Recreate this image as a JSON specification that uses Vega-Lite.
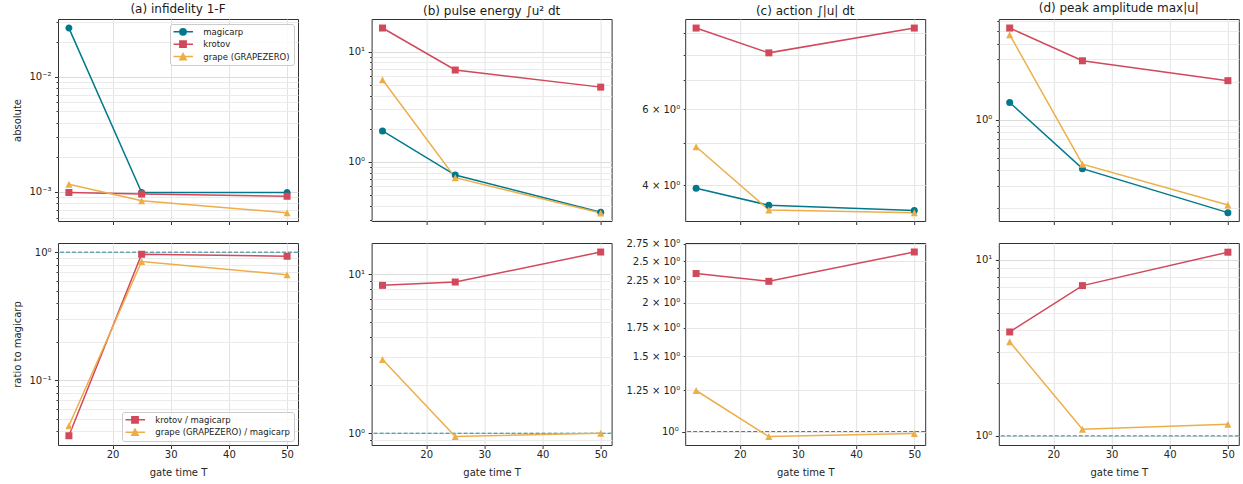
{
"$schema": "https://vega.github.io/schema/vega-lite/v6.json",
"background": "white",
"padding": {"left": 12, "top": 1, "right": 5, "bottom": 2},
"config": {
  "view": {"stroke": "#333333", "strokeWidth": 1},
  "font": "DejaVu Sans",
  "axis": {"domain": false, "tickColor": "#333333", "tickWidth": 1, "tickSize": 3.5, "labelFont": "DejaVu Sans", "labelFontSize": 10, "labelColor": "#262626", "labelPadding": 3.5, "titleFont": "DejaVu Sans", "titleFontSize": 10, "titleFontWeight": "normal", "titleColor": "#262626", "titlePadding": 6, "grid": true, "gridColor": "#e3e3e3", "gridWidth": 1, "labelFlush": false, "labelOverlap": false},
  "title": {"font": "DejaVu Sans", "fontSize": 12, "fontWeight": "normal", "color": "#1a1a1a", "offset": 1}
},
"datasets": {
  "a_abs": [
    {"T": 12.5, "s": "magicarp", "v": 0.0265}, {"T": 25, "s": "magicarp", "v": 0.00099}, {"T": 50, "s": "magicarp", "v": 0.00099},
    {"T": 12.5, "s": "krotov", "v": 0.00099}, {"T": 25, "s": "krotov", "v": 0.00096}, {"T": 50, "s": "krotov", "v": 0.00092},
    {"T": 12.5, "s": "grape (GRAPEZERO)", "v": 0.00117}, {"T": 25, "s": "grape (GRAPEZERO)", "v": 0.00084}, {"T": 50, "s": "grape (GRAPEZERO)", "v": 0.00066}
  ],
  "b_abs": [
    {"T": 12.5, "s": "magicarp", "v": 1.91}, {"T": 25, "s": "magicarp", "v": 0.76}, {"T": 50, "s": "magicarp", "v": 0.349},
    {"T": 12.5, "s": "krotov", "v": 16.4}, {"T": 25, "s": "krotov", "v": 6.82}, {"T": 50, "s": "krotov", "v": 4.77},
    {"T": 12.5, "s": "grape (GRAPEZERO)", "v": 5.56}, {"T": 25, "s": "grape (GRAPEZERO)", "v": 0.72}, {"T": 50, "s": "grape (GRAPEZERO)", "v": 0.344}
  ],
  "c_abs": [
    {"T": 12.5, "s": "magicarp", "v": 3.93}, {"T": 25, "s": "magicarp", "v": 3.59}, {"T": 50, "s": "magicarp", "v": 3.49},
    {"T": 12.5, "s": "krotov", "v": 9.26}, {"T": 25, "s": "krotov", "v": 8.11}, {"T": 50, "s": "krotov", "v": 9.26},
    {"T": 12.5, "s": "grape (GRAPEZERO)", "v": 4.91}, {"T": 25, "s": "grape (GRAPEZERO)", "v": 3.5}, {"T": 50, "s": "grape (GRAPEZERO)", "v": 3.45}
  ],
  "d_abs": [
    {"T": 12.5, "s": "magicarp", "v": 1.37}, {"T": 25, "s": "magicarp", "v": 0.411}, {"T": 50, "s": "magicarp", "v": 0.1845},
    {"T": 12.5, "s": "krotov", "v": 5.32}, {"T": 25, "s": "krotov", "v": 2.93}, {"T": 50, "s": "krotov", "v": 2.04},
    {"T": 12.5, "s": "grape (GRAPEZERO)", "v": 4.71}, {"T": 25, "s": "grape (GRAPEZERO)", "v": 0.446}, {"T": 50, "s": "grape (GRAPEZERO)", "v": 0.212}
  ],
  "a_ratio": [
    {"T": 12.5, "s": "krotov / magicarp", "v": 0.037}, {"T": 25, "s": "krotov / magicarp", "v": 0.965}, {"T": 50, "s": "krotov / magicarp", "v": 0.93},
    {"T": 12.5, "s": "grape (GRAPEZERO) / magicarp", "v": 0.0442}, {"T": 25, "s": "grape (GRAPEZERO) / magicarp", "v": 0.846}, {"T": 50, "s": "grape (GRAPEZERO) / magicarp", "v": 0.667}
  ],
  "b_ratio": [
    {"T": 12.5, "s": "krotov / magicarp", "v": 8.49}, {"T": 25, "s": "krotov / magicarp", "v": 8.91}, {"T": 50, "s": "krotov / magicarp", "v": 13.75},
    {"T": 12.5, "s": "grape (GRAPEZERO) / magicarp", "v": 2.9}, {"T": 25, "s": "grape (GRAPEZERO) / magicarp", "v": 0.953}, {"T": 50, "s": "grape (GRAPEZERO) / magicarp", "v": 1.0}
  ],
  "c_ratio": [
    {"T": 12.5, "s": "krotov / magicarp", "v": 2.34}, {"T": 25, "s": "krotov / magicarp", "v": 2.244}, {"T": 50, "s": "krotov / magicarp", "v": 2.628},
    {"T": 12.5, "s": "grape (GRAPEZERO) / magicarp", "v": 1.247}, {"T": 25, "s": "grape (GRAPEZERO) / magicarp", "v": 0.973}, {"T": 50, "s": "grape (GRAPEZERO) / magicarp", "v": 0.989}
  ],
  "d_ratio": [
    {"T": 12.5, "s": "krotov / magicarp", "v": 3.89}, {"T": 25, "s": "krotov / magicarp", "v": 7.13}, {"T": 50, "s": "krotov / magicarp", "v": 11.04},
    {"T": 12.5, "s": "grape (GRAPEZERO) / magicarp", "v": 3.42}, {"T": 25, "s": "grape (GRAPEZERO) / magicarp", "v": 1.09}, {"T": 50, "s": "grape (GRAPEZERO) / magicarp", "v": 1.165}
  ],
  "ref": [{"v": 1}]
},
"columns": 4,
"spacing": {"row": 22, "column": 73.6},
"bounds": "flush",
"resolve": {"scale": {"color": "independent", "shape": "independent", "stroke": "independent"}},
"concat": [
  {
    "width": 240, "height": 202, "title": "(a) infidelity 1-F", "data": {"name": "a_abs"},
    "encoding": {
      "x": {"field": "T", "type": "quantitative", "scale": {"domain": [10.625, 51.875], "nice": false, "zero": false}, "axis": {"values": [20, 30, 40, 50], "labels": false, "title": null}},
      "y": {"field": "v", "type": "quantitative", "scale": {"type": "log", "domain": [0.00056, 0.03177], "nice": false}, "axis": {"title": "absolute", "values": [0.0006, 0.0007, 0.0008, 0.0009, 0.001, 0.002, 0.003, 0.004, 0.005, 0.006, 0.007, 0.008, 0.009, 0.01, 0.02, 0.03], "labelExpr": "datum.value == 0.001 ? '10⁻³' : datum.value == 0.01 ? '10⁻²' : ''", "tickSize": {"condition": {"test": "datum.value == 0.001 || datum.value == 0.01", "value": 3.5}, "value": 2}, "gridColor": {"condition": {"test": "datum.value == 0.001 || datum.value == 0.01", "value": "#dcdcdc"}, "value": "#ebebeb"}}}
    },
    "layer": [
      {"mark": {"type": "line", "strokeWidth": 1.5},
       "encoding": {"stroke": {"field": "s", "type": "nominal", "scale": {"domain": ["magicarp", "krotov", "grape (GRAPEZERO)"], "range": ["#00798c", "#d1495b", "#edae49"]},
         "legend": {"orient": "top-right", "offset": 4.5, "title": null, "padding": 3.5, "rowPadding": 3.4, "clipHeight": 8.6, "symbolSize": 40, "symbolStrokeWidth": 1.5, "symbolOffset": 5.25, "labelOffset": 16, "labelFontSize": 8.5, "labelFont": "DejaVu Sans", "labelColor": "#222222", "labelLimit": 300, "fillColor": "rgba(255,255,255,0.8)", "strokeColor": "#cccccc", "cornerRadius": 2.5}}}},
      {"mark": {"type": "point", "filled": true, "size": 49, "opacity": 1},
       "encoding": {
         "color": {"field": "s", "type": "nominal", "scale": {"domain": ["magicarp", "krotov", "grape (GRAPEZERO)"], "range": ["#00798c", "#d1495b", "#edae49"]},
           "legend": {"orient": "top-right", "offset": 4.5, "title": null, "padding": 3.5, "rowPadding": 3.4, "clipHeight": 8.6, "symbolSize": 40, "symbolStrokeWidth": 1.5, "symbolOffset": 5.25, "labelOffset": 16, "labelFontSize": 8.5, "labelFont": "DejaVu Sans", "labelColor": "#222222", "labelLimit": 300, "fillColor": "rgba(255,255,255,0.8)", "strokeColor": "#cccccc", "cornerRadius": 2.5}},
         "shape": {"field": "s", "type": "nominal", "scale": {"domain": ["magicarp", "krotov", "grape (GRAPEZERO)"], "range": ["M-3.16,0H3.16M1,0A1,1,0,1,1,-1,0A1,1,0,1,1,1,0Z", "M-3.16,0H3.16M-1,-1H1V1H-1Z", "M-3.16,0H3.16M0,-1L1,1H-1Z"]},
           "legend": {"orient": "top-right", "offset": 4.5, "title": null, "padding": 3.5, "rowPadding": 3.4, "clipHeight": 8.6, "symbolSize": 40, "symbolStrokeWidth": 1.5, "symbolOffset": 5.25, "labelOffset": 16, "labelFontSize": 8.5, "labelFont": "DejaVu Sans", "labelColor": "#222222", "labelLimit": 300, "fillColor": "rgba(255,255,255,0.8)", "strokeColor": "#cccccc", "cornerRadius": 2.5}}
       }}
    ]
  },
  {
    "width": 240, "height": 202, "title": "(b) pulse energy ∫u² dt", "data": {"name": "b_abs"},
    "encoding": {
      "x": {"field": "T", "type": "quantitative", "scale": {"domain": [10.625, 51.875], "nice": false, "zero": false}, "axis": {"values": [20, 30, 40, 50], "labels": false, "title": null}},
      "y": {"field": "v", "type": "quantitative", "scale": {"type": "log", "domain": [0.291, 19.8], "nice": false}, "axis": {"title": null, "values": [0.3, 0.4, 0.5, 0.6, 0.7, 0.8, 0.9, 1, 2, 3, 4, 5, 6, 7, 8, 9, 10], "labelExpr": "datum.value == 1 ? '10⁰' : datum.value == 10 ? '10¹' : ''", "tickSize": {"condition": {"test": "datum.value == 1 || datum.value == 10", "value": 3.5}, "value": 2}, "gridColor": {"condition": {"test": "datum.value == 1 || datum.value == 10", "value": "#dcdcdc"}, "value": "#ebebeb"}}},
      "color": {"field": "s", "type": "nominal", "scale": {"domain": ["magicarp", "krotov", "grape (GRAPEZERO)"], "range": ["#00798c", "#d1495b", "#edae49"]}, "legend": null}
    },
    "layer": [
      {"mark": {"type": "line", "strokeWidth": 1.5}},
      {"mark": {"type": "point", "filled": true, "size": 49, "opacity": 1},
       "encoding": {"shape": {"field": "s", "type": "nominal", "scale": {"domain": ["magicarp", "krotov", "grape (GRAPEZERO)"], "range": ["circle", "square", "M0,-1L1,1H-1Z"]}, "legend": null}}}
    ]
  },
  {
    "width": 240, "height": 202, "title": "(c) action ∫|u| dt", "data": {"name": "c_abs"},
    "encoding": {
      "x": {"field": "T", "type": "quantitative", "scale": {"domain": [10.625, 51.875], "nice": false, "zero": false}, "axis": {"values": [20, 30, 40, 50], "labels": false, "title": null}},
      "y": {"field": "v", "type": "quantitative", "scale": {"type": "log", "domain": [3.3, 9.72], "nice": false}, "axis": {"title": null, "values": [4, 5, 6, 7, 8, 9], "labelExpr": "datum.value == 4 ? '4 × 10⁰' : datum.value == 6 ? '6 × 10⁰' : ''", "tickSize": 2, "gridColor": "#e6e6e6"}},
      "color": {"field": "s", "type": "nominal", "scale": {"domain": ["magicarp", "krotov", "grape (GRAPEZERO)"], "range": ["#00798c", "#d1495b", "#edae49"]}, "legend": null}
    },
    "layer": [
      {"mark": {"type": "line", "strokeWidth": 1.5}},
      {"mark": {"type": "point", "filled": true, "size": 49, "opacity": 1},
       "encoding": {"shape": {"field": "s", "type": "nominal", "scale": {"domain": ["magicarp", "krotov", "grape (GRAPEZERO)"], "range": ["circle", "square", "M0,-1L1,1H-1Z"]}, "legend": null}}}
    ]
  },
  {
    "width": 240, "height": 202, "title": "(d) peak amplitude max|u|", "data": {"name": "d_abs"},
    "encoding": {
      "x": {"field": "T", "type": "quantitative", "scale": {"domain": [10.625, 51.875], "nice": false, "zero": false}, "axis": {"values": [20, 30, 40, 50], "labels": false, "title": null}},
      "y": {"field": "v", "type": "quantitative", "scale": {"type": "log", "domain": [0.1585, 6.27], "nice": false}, "axis": {"title": null, "values": [0.2, 0.3, 0.4, 0.5, 0.6, 0.7, 0.8, 0.9, 1, 2, 3, 4, 5, 6], "labelExpr": "datum.value == 1 ? '10⁰' : ''", "tickSize": {"condition": {"test": "datum.value == 1", "value": 3.5}, "value": 2}, "gridColor": {"condition": {"test": "datum.value == 1", "value": "#dcdcdc"}, "value": "#ebebeb"}}},
      "color": {"field": "s", "type": "nominal", "scale": {"domain": ["magicarp", "krotov", "grape (GRAPEZERO)"], "range": ["#00798c", "#d1495b", "#edae49"]}, "legend": null}
    },
    "layer": [
      {"mark": {"type": "line", "strokeWidth": 1.5}},
      {"mark": {"type": "point", "filled": true, "size": 49, "opacity": 1},
       "encoding": {"shape": {"field": "s", "type": "nominal", "scale": {"domain": ["magicarp", "krotov", "grape (GRAPEZERO)"], "range": ["circle", "square", "M0,-1L1,1H-1Z"]}, "legend": null}}}
    ]
  },
  {
    "width": 240, "height": 202,
    "encoding": {"y": {"field": "v", "type": "quantitative", "scale": {"type": "log", "domain": [0.0313, 1.179], "nice": false}, "axis": {"title": "ratio to magicarp", "values": [0.04, 0.05, 0.06, 0.07, 0.08, 0.09, 0.1, 0.2, 0.3, 0.4, 0.5, 0.6, 0.7, 0.8, 0.9, 1], "labelExpr": "datum.value == 0.1 ? '10⁻¹' : datum.value == 1 ? '10⁰' : ''", "tickSize": {"condition": {"test": "datum.value == 0.1 || datum.value == 1", "value": 3.5}, "value": 2}, "gridColor": {"condition": {"test": "datum.value == 0.1 || datum.value == 1", "value": "#dcdcdc"}, "value": "#ebebeb"}}}},
    "layer": [
      {"data": {"name": "ref"}, "mark": {"type": "rule", "color": "#00798c", "strokeDash": [4, 2], "strokeWidth": 1, "opacity": 0.85}, "encoding": {}},
      {"data": {"name": "a_ratio"},
       "encoding": {
         "x": {"field": "T", "type": "quantitative", "scale": {"domain": [10.625, 51.875], "nice": false, "zero": false}, "axis": {"values": [20, 30, 40, 50], "title": "gate time T", "labelPadding": 1, "titlePadding": 7.5}}
       },
       "layer": [
         {"mark": {"type": "line", "strokeWidth": 1.5},
          "encoding": {"stroke": {"field": "s", "type": "nominal", "scale": {"domain": ["krotov / magicarp", "grape (GRAPEZERO) / magicarp"], "range": ["#d1495b", "#edae49"]},
            "legend": {"orient": "bottom-right", "offset": 4.5, "title": null, "padding": 3.5, "rowPadding": 3.4, "clipHeight": 8.6, "symbolSize": 40, "symbolStrokeWidth": 1.5, "symbolOffset": 5.25, "labelOffset": 16, "labelFontSize": 8.5, "labelFont": "DejaVu Sans", "labelColor": "#222222", "labelLimit": 300, "fillColor": "rgba(255,255,255,0.8)", "strokeColor": "#cccccc", "cornerRadius": 2.5}}}},
         {"mark": {"type": "point", "filled": true, "size": 49, "opacity": 1},
          "encoding": {
            "color": {"field": "s", "type": "nominal", "scale": {"domain": ["krotov / magicarp", "grape (GRAPEZERO) / magicarp"], "range": ["#d1495b", "#edae49"]},
              "legend": {"orient": "bottom-right", "offset": 4.5, "title": null, "padding": 3.5, "rowPadding": 3.4, "clipHeight": 8.6, "symbolSize": 40, "symbolStrokeWidth": 1.5, "symbolOffset": 5.25, "labelOffset": 16, "labelFontSize": 8.5, "labelFont": "DejaVu Sans", "labelColor": "#222222", "labelLimit": 300, "fillColor": "rgba(255,255,255,0.8)", "strokeColor": "#cccccc", "cornerRadius": 2.5}},
            "shape": {"field": "s", "type": "nominal", "scale": {"domain": ["krotov / magicarp", "grape (GRAPEZERO) / magicarp"], "range": ["M-3.16,0H3.16M-1,-1H1V1H-1Z", "M-3.16,0H3.16M0,-1L1,1H-1Z"]},
              "legend": {"orient": "bottom-right", "offset": 4.5, "title": null, "padding": 3.5, "rowPadding": 3.4, "clipHeight": 8.6, "symbolSize": 40, "symbolStrokeWidth": 1.5, "symbolOffset": 5.25, "labelOffset": 16, "labelFontSize": 8.5, "labelFont": "DejaVu Sans", "labelColor": "#222222", "labelLimit": 300, "fillColor": "rgba(255,255,255,0.8)", "strokeColor": "#cccccc", "cornerRadius": 2.5}}
          }}
       ]}
    ]
  },
  {
    "width": 240, "height": 202,
    "encoding": {"y": {"field": "v", "type": "quantitative", "scale": {"type": "log", "domain": [0.843, 15.67], "nice": false}, "axis": {"title": null, "values": [0.9, 1, 2, 3, 4, 5, 6, 7, 8, 9, 10], "labelExpr": "datum.value == 1 ? '10⁰' : datum.value == 10 ? '10¹' : ''", "tickSize": {"condition": {"test": "datum.value == 1 || datum.value == 10", "value": 3.5}, "value": 2}, "gridColor": {"condition": {"test": "datum.value == 1 || datum.value == 10", "value": "#dcdcdc"}, "value": "#ebebeb"}}}},
    "layer": [
      {"data": {"name": "ref"}, "mark": {"type": "rule", "color": "#00798c", "strokeDash": [4, 2], "strokeWidth": 1, "opacity": 0.85}, "encoding": {}},
      {"data": {"name": "b_ratio"},
       "encoding": {
         "x": {"field": "T", "type": "quantitative", "scale": {"domain": [10.625, 51.875], "nice": false, "zero": false}, "axis": {"values": [20, 30, 40, 50], "title": "gate time T", "labelPadding": 1, "titlePadding": 7.5}},
         "color": {"field": "s", "type": "nominal", "scale": {"domain": ["krotov / magicarp", "grape (GRAPEZERO) / magicarp"], "range": ["#d1495b", "#edae49"]}, "legend": null}
       },
       "layer": [
         {"mark": {"type": "line", "strokeWidth": 1.5}},
         {"mark": {"type": "point", "filled": true, "size": 49, "opacity": 1},
          "encoding": {"shape": {"field": "s", "type": "nominal", "scale": {"domain": ["krotov / magicarp", "grape (GRAPEZERO) / magicarp"], "range": ["square", "M0,-1L1,1H-1Z"]}, "legend": null}}}
       ]}
    ]
  },
  {
    "width": 240, "height": 202,
    "encoding": {"y": {"field": "v", "type": "quantitative", "scale": {"type": "log", "domain": [0.93, 2.758], "nice": false}, "axis": {"title": null, "values": [1, 1.25, 1.5, 1.75, 2, 2.25, 2.5, 2.75], "labelExpr": "datum.value == 1 ? '10⁰' : toString(datum.value) + ' × 10⁰'", "tickSize": {"condition": {"test": "datum.value == 1", "value": 3.5}, "value": 2}, "gridColor": "#e6e6e6"}}},
    "layer": [
      {"data": {"name": "ref"}, "mark": {"type": "rule", "color": "#00798c", "strokeDash": [4, 2], "strokeWidth": 1, "opacity": 0.85}, "encoding": {}},
      {"data": {"name": "c_ratio"},
       "encoding": {
         "x": {"field": "T", "type": "quantitative", "scale": {"domain": [10.625, 51.875], "nice": false, "zero": false}, "axis": {"values": [20, 30, 40, 50], "title": "gate time T", "labelPadding": 1, "titlePadding": 7.5}},
         "color": {"field": "s", "type": "nominal", "scale": {"domain": ["krotov / magicarp", "grape (GRAPEZERO) / magicarp"], "range": ["#d1495b", "#edae49"]}, "legend": null}
       },
       "layer": [
         {"mark": {"type": "line", "strokeWidth": 1.5}},
         {"mark": {"type": "point", "filled": true, "size": 49, "opacity": 1},
          "encoding": {"shape": {"field": "s", "type": "nominal", "scale": {"domain": ["krotov / magicarp", "grape (GRAPEZERO) / magicarp"], "range": ["square", "M0,-1L1,1H-1Z"]}, "legend": null}}}
       ]}
    ]
  },
  {
    "width": 240, "height": 202,
    "encoding": {"y": {"field": "v", "type": "quantitative", "scale": {"type": "log", "domain": [0.887, 12.45], "nice": false}, "axis": {"title": null, "values": [1, 2, 3, 4, 5, 6, 7, 8, 9, 10], "labelExpr": "datum.value == 1 ? '10⁰' : datum.value == 10 ? '10¹' : ''", "tickSize": {"condition": {"test": "datum.value == 1 || datum.value == 10", "value": 3.5}, "value": 2}, "gridColor": {"condition": {"test": "datum.value == 1 || datum.value == 10", "value": "#dcdcdc"}, "value": "#ebebeb"}}}},
    "layer": [
      {"data": {"name": "ref"}, "mark": {"type": "rule", "color": "#00798c", "strokeDash": [4, 2], "strokeWidth": 1, "opacity": 0.85}, "encoding": {}},
      {"data": {"name": "d_ratio"},
       "encoding": {
         "x": {"field": "T", "type": "quantitative", "scale": {"domain": [10.625, 51.875], "nice": false, "zero": false}, "axis": {"values": [20, 30, 40, 50], "title": "gate time T", "labelPadding": 1, "titlePadding": 7.5}},
         "color": {"field": "s", "type": "nominal", "scale": {"domain": ["krotov / magicarp", "grape (GRAPEZERO) / magicarp"], "range": ["#d1495b", "#edae49"]}, "legend": null}
       },
       "layer": [
         {"mark": {"type": "line", "strokeWidth": 1.5}},
         {"mark": {"type": "point", "filled": true, "size": 49, "opacity": 1},
          "encoding": {"shape": {"field": "s", "type": "nominal", "scale": {"domain": ["krotov / magicarp", "grape (GRAPEZERO) / magicarp"], "range": ["square", "M0,-1L1,1H-1Z"]}, "legend": null}}}
       ]}
    ]
  }
]
}
